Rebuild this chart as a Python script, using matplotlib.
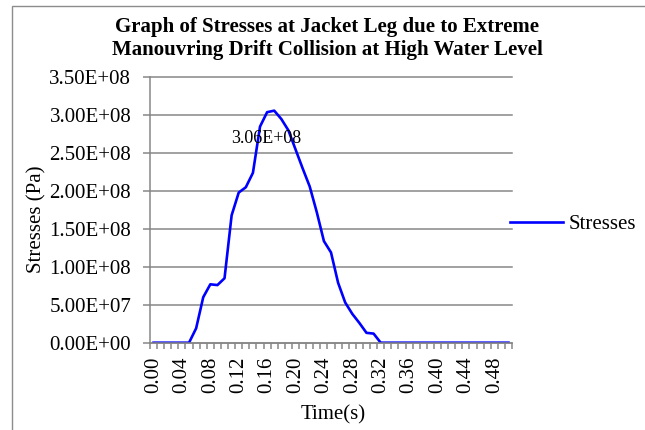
import matplotlib
matplotlib.use("Agg")
import matplotlib.pyplot as plt
from matplotlib.patches import Rectangle
from matplotlib.ticker import FixedLocator, FuncFormatter

plt.rcParams['font.family'] = ['Liberation Serif', 'DejaVu Serif']

# Time categories (s)
times = [0.00, 0.01, 0.02, 0.03, 0.04, 0.05, 0.06, 0.07, 0.08, 0.09,
         0.10, 0.11, 0.12, 0.13, 0.14, 0.15, 0.16, 0.17, 0.18, 0.19,
         0.20, 0.21, 0.22, 0.23, 0.24, 0.25, 0.26, 0.27, 0.28, 0.29,
         0.30, 0.31, 0.32, 0.33, 0.34, 0.35, 0.36, 0.37, 0.38, 0.39,
         0.40, 0.41, 0.42, 0.43, 0.44, 0.45, 0.46, 0.47, 0.48, 0.49,
         0.50]

# Stress at the jacket leg (Pa)
stresses = [0, 0, 0, 0, 0, 0, 1.9e7, 6.0e7, 7.7e7, 7.6e7,
            8.5e7, 1.68e8, 1.98e8, 2.05e8, 2.24e8, 2.85e8, 3.04e8, 3.06e8, 2.95e8, 2.80e8,
            2.55e8, 2.30e8, 2.06e8, 1.72e8, 1.34e8, 1.19e8, 7.9e7, 5.3e7, 3.8e7, 2.6e7,
            1.3e7, 1.2e7, 0, 0, 0, 0, 0, 0, 0, 0,
            0, 0, 0, 0, 0, 0, 0, 0, 0, 0,
            0]

y_ticks = [0, 5.0e7, 1.0e8, 1.5e8, 2.0e8, 2.5e8, 3.0e8, 3.5e8]
label_every = 4
peak_value = 3.06e8

W, H = 645, 430
fig = plt.figure(figsize=(W / 100, H / 100), dpi=100)

# chart border
fig.patches.append(Rectangle((12 / W, -0.05), 1.2, 1 - 6 / H + 0.05,
                             transform=fig.transFigure, fill=False,
                             edgecolor='#8c8c8c', linewidth=1.0))

ax = fig.add_axes([150 / W, 1 - 342.7 / H, 362 / W, 265.4 / H])

idx = list(range(len(times)))
line, = ax.plot(idx, stresses, color='#0000ff', linewidth=1.9, label='Stresses',
                solid_joinstyle='round')

ax.set_xlim(-0.5, len(times) - 0.5)
ax.set_ylim(0, 3.5e8)

grid_col = '#878787'
for s in ('top', 'right'):
    ax.spines[s].set_visible(False)
for s in ('left', 'bottom'):
    ax.spines[s].set_color(grid_col)
    ax.spines[s].set_linewidth(1.1)

ax.set_yticks(y_ticks)
ax.yaxis.set_major_formatter(FuncFormatter(lambda v, p: f"{v:.2E}"))
ax.tick_params(axis='y', direction='out', length=5, width=1.1, color=grid_col,
               labelsize=15, pad=8.5)
ax.grid(axis='y', color=grid_col, linewidth=1.1)
ax.set_axisbelow(True)
for gl in ax.get_ygridlines():
    gl.set_clip_on(False)

label_pos = idx[::label_every]
ax.xaxis.set_major_locator(FixedLocator(label_pos))
ax.set_xticklabels([f"{times[i]:.2f}" for i in label_pos], rotation=90)
ax.xaxis.set_minor_locator(FixedLocator([i - 0.5 for i in range(len(times) + 1)]))
ax.tick_params(axis='x', which='major', length=0, labelsize=15, pad=10)
ax.tick_params(axis='x', which='minor', direction='out', length=4, width=1.1,
               color=grid_col)

ax.set_ylabel('Stresses (Pa)', fontsize=15, va='center')
ax.yaxis.set_label_coords(-0.312, 0.466)
ax.set_xlabel('Time(s)', fontsize=15, va='center')
ax.xaxis.set_label_coords(0.505, -0.272)

peak_i = stresses.index(peak_value)
ax.annotate(f"{peak_value:.2E}", xy=(peak_i, peak_value), xytext=(-8, -28),
            textcoords='offset pixels', ha='center', va='center', fontsize=13)

fig.text(327 / W, 1 - 31.7 / H, 'Graph of Stresses at Jacket Leg due to Extreme',
         ha='center', va='baseline', fontsize=15, fontweight='bold')
fig.text(327 / W, 1 - 55 / H, 'Manouvring Drift Collision at High Water Level',
         ha='center', va='baseline', fontsize=15, fontweight='bold')

fig.legend(handles=[line], loc='center left', bbox_to_anchor=(510 / W, 1 - 224 / H),
           bbox_transform=fig.transFigure, frameon=False, fontsize=15,
           handlelength=2.55, handletextpad=0.25, borderpad=0, borderaxespad=0)

fig.savefig('out.png', dpi=100)
